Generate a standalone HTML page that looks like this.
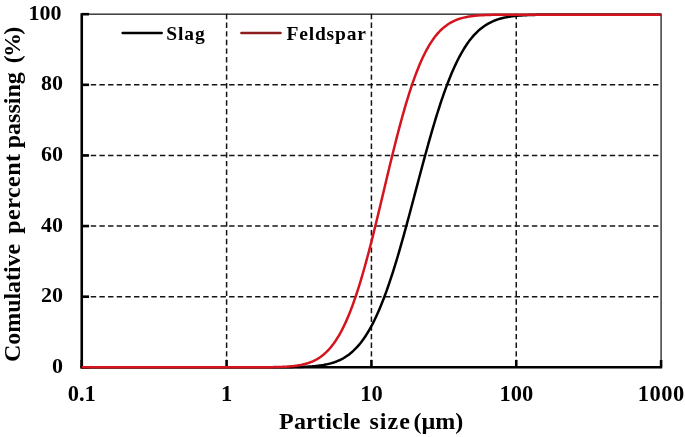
<!DOCTYPE html>
<html><head><meta charset="utf-8"><style>
html,body{margin:0;padding:0;background:#fff;}
body{width:685px;height:437px;overflow:hidden;}
svg{display:block;will-change:transform;}
text{font-family:"Liberation Serif",serif;font-weight:bold;fill:#000;}
</style></head><body>
<svg width="685" height="437" viewBox="0 0 685 437">
<rect width="685" height="437" fill="#fff"/>
<rect x="81.75" y="14.2" width="579.35" height="353.1" fill="none" stroke="#3c3c3c" stroke-width="1.5"/>
<line x1="82.1" y1="296.68" x2="660.1" y2="296.68" stroke="#141414" stroke-width="1.5" stroke-dasharray="5.4 3.25"/>
<line x1="82.1" y1="226.06" x2="660.1" y2="226.06" stroke="#141414" stroke-width="1.5" stroke-dasharray="5.4 3.25"/>
<line x1="82.1" y1="155.44" x2="660.1" y2="155.44" stroke="#141414" stroke-width="1.5" stroke-dasharray="5.4 3.25"/>
<line x1="82.1" y1="84.82" x2="660.1" y2="84.82" stroke="#141414" stroke-width="1.5" stroke-dasharray="5.4 3.25"/>
<line x1="226.59" y1="13.85" x2="226.59" y2="360.3" stroke="#141414" stroke-width="1.5" stroke-dasharray="5.4 3.25"/>
<line x1="371.43" y1="13.85" x2="371.43" y2="360.3" stroke="#141414" stroke-width="1.5" stroke-dasharray="5.4 3.25"/>
<line x1="516.26" y1="13.85" x2="516.26" y2="360.3" stroke="#141414" stroke-width="1.5" stroke-dasharray="5.4 3.25"/>
<line x1="81.75" y1="13.2" x2="81.75" y2="368.6" stroke="#000" stroke-width="2.6"/>
<line x1="80.45" y1="367.3" x2="662.1" y2="367.3" stroke="#000" stroke-width="2.6"/>
<line x1="81.75" y1="367.30" x2="89.05" y2="367.30" stroke="#000" stroke-width="2.6"/>
<line x1="81.75" y1="296.68" x2="89.05" y2="296.68" stroke="#000" stroke-width="2.6"/>
<line x1="81.75" y1="226.06" x2="89.05" y2="226.06" stroke="#000" stroke-width="2.6"/>
<line x1="81.75" y1="155.44" x2="89.05" y2="155.44" stroke="#000" stroke-width="2.6"/>
<line x1="81.75" y1="84.82" x2="89.05" y2="84.82" stroke="#000" stroke-width="2.6"/>
<line x1="81.75" y1="14.20" x2="89.05" y2="14.20" stroke="#000" stroke-width="2.6"/>
<line x1="81.75" y1="367.3" x2="81.75" y2="360.0" stroke="#000" stroke-width="2.6"/>
<line x1="226.59" y1="367.3" x2="226.59" y2="360.0" stroke="#000" stroke-width="2.6"/>
<line x1="371.43" y1="367.3" x2="371.43" y2="360.0" stroke="#000" stroke-width="2.6"/>
<line x1="516.26" y1="367.3" x2="516.26" y2="360.0" stroke="#000" stroke-width="2.6"/>
<line x1="661.10" y1="367.3" x2="661.10" y2="360.0" stroke="#000" stroke-width="2.6"/>
<path d="M81.75,367.30 L260.75,367.29 L266.75,367.29 L270.75,367.28 L273.75,367.28 L275.75,367.27 L277.75,367.26 L279.75,367.26 L280.75,367.25 L281.75,367.24 L282.75,367.24 L283.75,367.23 L284.75,367.22 L285.75,367.22 L286.75,367.21 L287.75,367.20 L288.75,367.19 L289.75,367.18 L290.75,367.16 L291.75,367.15 L292.75,367.13 L293.75,367.12 L294.75,367.10 L295.75,367.08 L296.75,367.06 L297.75,367.03 L298.75,367.01 L299.75,366.98 L300.75,366.95 L301.75,366.92 L302.75,366.88 L303.75,366.84 L304.75,366.80 L305.75,366.75 L306.75,366.71 L307.75,366.65 L308.75,366.59 L309.75,366.53 L310.75,366.46 L311.75,366.39 L312.75,366.31 L313.75,366.23 L314.75,366.14 L315.75,366.04 L316.75,365.93 L317.75,365.82 L318.75,365.70 L319.75,365.57 L320.75,365.43 L321.75,365.28 L322.75,365.12 L323.75,364.94 L324.75,364.76 L325.75,364.56 L326.75,364.35 L327.75,364.13 L328.75,363.89 L329.75,363.64 L330.75,363.37 L331.75,363.08 L332.75,362.78 L333.75,362.46 L334.75,362.11 L335.75,361.75 L336.75,361.36 L337.75,360.95 L338.75,360.52 L339.75,360.07 L340.75,359.58 L341.75,359.07 L342.75,358.54 L343.75,357.97 L344.75,357.37 L345.75,356.74 L346.75,356.08 L347.75,355.39 L348.75,354.66 L349.75,353.89 L350.75,353.09 L351.75,352.24 L352.75,351.36 L353.75,350.44 L354.75,349.47 L355.75,348.46 L356.75,347.41 L357.75,346.31 L358.75,345.16 L359.75,343.96 L360.75,342.72 L361.75,341.42 L362.75,340.07 L363.75,338.67 L364.75,337.22 L365.75,335.71 L366.75,334.15 L367.75,332.53 L368.75,330.85 L369.75,329.12 L370.75,327.32 L371.75,325.47 L372.75,323.55 L373.75,321.58 L374.75,319.55 L375.75,317.45 L376.75,315.29 L377.75,313.07 L378.75,310.79 L379.75,308.45 L380.75,306.04 L381.75,303.58 L382.75,301.05 L383.75,298.46 L384.75,295.81 L385.75,293.10 L386.75,290.34 L387.75,287.51 L388.75,284.62 L389.75,281.68 L390.75,278.69 L391.75,275.63 L392.75,272.53 L393.75,269.37 L394.75,266.16 L395.75,262.91 L396.75,259.60 L397.75,256.26 L398.75,252.86 L399.75,249.43 L400.75,245.95 L401.75,242.44 L402.75,238.89 L403.75,235.31 L404.75,231.70 L405.75,228.06 L406.75,224.39 L407.75,220.70 L408.75,216.99 L409.75,213.26 L410.75,209.51 L411.75,205.75 L412.75,201.98 L413.75,198.20 L414.75,194.41 L415.75,190.63 L416.75,186.84 L417.75,183.06 L418.75,179.28 L419.75,175.51 L420.75,171.75 L421.75,168.01 L422.75,164.28 L423.75,160.57 L424.75,156.89 L425.75,153.22 L426.75,149.59 L427.75,145.98 L428.75,142.41 L429.75,138.86 L430.75,135.36 L431.75,131.89 L432.75,128.46 L433.75,125.08 L434.75,121.74 L435.75,118.44 L436.75,115.19 L437.75,112.00 L438.75,108.85 L439.75,105.75 L440.75,102.71 L441.75,99.72 L442.75,96.79 L443.75,93.92 L444.75,91.10 L445.75,88.34 L446.75,85.65 L447.75,83.01 L448.75,80.43 L449.75,77.92 L450.75,75.46 L451.75,73.07 L452.75,70.74 L453.75,68.47 L454.75,66.26 L455.75,64.11 L456.75,62.03 L457.75,60.00 L458.75,58.04 L459.75,56.14 L460.75,54.30 L461.75,52.51 L462.75,50.79 L463.75,49.12 L464.75,47.51 L465.75,45.96 L466.75,44.46 L467.75,43.01 L468.75,41.62 L469.75,40.29 L470.75,39.00 L471.75,37.76 L472.75,36.58 L473.75,35.44 L474.75,34.35 L475.75,33.30 L476.75,32.30 L477.75,31.34 L478.75,30.42 L479.75,29.55 L480.75,28.71 L481.75,27.92 L482.75,27.16 L483.75,26.43 L484.75,25.74 L485.75,25.09 L486.75,24.47 L487.75,23.87 L488.75,23.31 L489.75,22.78 L490.75,22.28 L491.75,21.80 L492.75,21.35 L493.75,20.92 L494.75,20.51 L495.75,20.13 L496.75,19.77 L497.75,19.43 L498.75,19.11 L499.75,18.81 L500.75,18.53 L501.75,18.26 L502.75,18.01 L503.75,17.78 L504.75,17.56 L505.75,17.35 L506.75,17.16 L507.75,16.97 L508.75,16.80 L509.75,16.65 L510.75,16.50 L511.75,16.36 L512.75,16.23 L513.75,16.11 L514.75,16.00 L515.75,15.89 L516.75,15.80 L517.75,15.71 L518.75,15.62 L519.75,15.55 L520.75,15.47 L521.75,15.41 L522.75,15.35 L523.75,15.29 L524.75,15.24 L525.75,15.19 L526.75,15.14 L527.75,15.10 L528.75,15.06 L529.75,15.03 L530.75,14.99 L531.75,14.96 L532.75,14.94 L533.75,14.91 L534.75,14.89 L535.75,14.87 L536.75,14.85 L537.75,14.83 L538.75,14.81 L539.75,14.80 L540.75,14.78 L541.75,14.77 L542.75,14.76 L543.75,14.75 L544.75,14.74 L545.75,14.73 L546.75,14.72 L547.75,14.72 L548.75,14.71 L549.75,14.70 L550.75,14.70 L552.75,14.69 L554.75,14.68 L556.75,14.68 L558.75,14.67 L561.75,14.66 L565.75,14.66 L572.75,14.65 L660.75,14.65" fill="none" stroke="#000" stroke-width="2.5" stroke-linejoin="round"/>
<path d="M81.75,367.30 L243.75,367.29 L249.75,367.29 L253.75,367.28 L256.75,367.27 L258.75,367.27 L260.75,367.26 L261.75,367.25 L262.75,367.25 L263.75,367.24 L264.75,367.23 L265.75,367.23 L266.75,367.22 L267.75,367.21 L268.75,367.20 L269.75,367.18 L270.75,367.17 L271.75,367.16 L272.75,367.14 L273.75,367.12 L274.75,367.10 L275.75,367.08 L276.75,367.06 L277.75,367.03 L278.75,367.00 L279.75,366.97 L280.75,366.93 L281.75,366.89 L282.75,366.85 L283.75,366.81 L284.75,366.76 L285.75,366.70 L286.75,366.64 L287.75,366.57 L288.75,366.50 L289.75,366.42 L290.75,366.34 L291.75,366.25 L292.75,366.15 L293.75,366.04 L294.75,365.92 L295.75,365.79 L296.75,365.66 L297.75,365.51 L298.75,365.35 L299.75,365.17 L300.75,364.99 L301.75,364.78 L302.75,364.57 L303.75,364.33 L304.75,364.08 L305.75,363.82 L306.75,363.53 L307.75,363.22 L308.75,362.89 L309.75,362.54 L310.75,362.16 L311.75,361.76 L312.75,361.33 L313.75,360.87 L314.75,360.39 L315.75,359.87 L316.75,359.32 L317.75,358.73 L318.75,358.11 L319.75,357.46 L320.75,356.76 L321.75,356.03 L322.75,355.25 L323.75,354.43 L324.75,353.56 L325.75,352.65 L326.75,351.69 L327.75,350.68 L328.75,349.62 L329.75,348.50 L330.75,347.33 L331.75,346.10 L332.75,344.81 L333.75,343.47 L334.75,342.06 L335.75,340.59 L336.75,339.05 L337.75,337.45 L338.75,335.78 L339.75,334.04 L340.75,332.24 L341.75,330.36 L342.75,328.41 L343.75,326.39 L344.75,324.29 L345.75,322.12 L346.75,319.88 L347.75,317.56 L348.75,315.16 L349.75,312.69 L350.75,310.14 L351.75,307.52 L352.75,304.81 L353.75,302.04 L354.75,299.19 L355.75,296.26 L356.75,293.26 L357.75,290.19 L358.75,287.04 L359.75,283.82 L360.75,280.54 L361.75,277.18 L362.75,273.76 L363.75,270.27 L364.75,266.73 L365.75,263.12 L366.75,259.45 L367.75,255.72 L368.75,251.95 L369.75,248.12 L370.75,244.24 L371.75,240.32 L372.75,236.35 L373.75,232.35 L374.75,228.31 L375.75,224.24 L376.75,220.14 L377.75,216.01 L378.75,211.86 L379.75,207.70 L380.75,203.52 L381.75,199.32 L382.75,195.12 L383.75,190.92 L384.75,186.71 L385.75,182.51 L386.75,178.32 L387.75,174.14 L388.75,169.97 L389.75,165.82 L390.75,161.70 L391.75,157.60 L392.75,153.53 L393.75,149.49 L394.75,145.49 L395.75,141.52 L396.75,137.60 L397.75,133.73 L398.75,129.90 L399.75,126.12 L400.75,122.40 L401.75,118.73 L402.75,115.13 L403.75,111.58 L404.75,108.09 L405.75,104.67 L406.75,101.32 L407.75,98.04 L408.75,94.82 L409.75,91.68 L410.75,88.61 L411.75,85.61 L412.75,82.68 L413.75,79.83 L414.75,77.06 L415.75,74.36 L416.75,71.74 L417.75,69.19 L418.75,66.72 L419.75,64.33 L420.75,62.01 L421.75,59.77 L422.75,57.60 L423.75,55.51 L424.75,53.49 L425.75,51.54 L426.75,49.66 L427.75,47.86 L428.75,46.12 L429.75,44.46 L430.75,42.86 L431.75,41.32 L432.75,39.85 L433.75,38.45 L434.75,37.10 L435.75,35.82 L436.75,34.59 L437.75,33.42 L438.75,32.30 L439.75,31.24 L440.75,30.23 L441.75,29.27 L442.75,28.36 L443.75,27.50 L444.75,26.68 L445.75,25.90 L446.75,25.17 L447.75,24.47 L448.75,23.82 L449.75,23.20 L450.75,22.62 L451.75,22.07 L452.75,21.55 L453.75,21.07 L454.75,20.61 L455.75,20.18 L456.75,19.78 L457.75,19.40 L458.75,19.05 L459.75,18.72 L460.75,18.41 L461.75,18.13 L462.75,17.86 L463.75,17.61 L464.75,17.38 L465.75,17.16 L466.75,16.96 L467.75,16.77 L468.75,16.60 L469.75,16.44 L470.75,16.29 L471.75,16.15 L472.75,16.03 L473.75,15.91 L474.75,15.80 L475.75,15.70 L476.75,15.61 L477.75,15.52 L478.75,15.45 L479.75,15.37 L480.75,15.31 L481.75,15.25 L482.75,15.19 L483.75,15.14 L484.75,15.10 L485.75,15.05 L486.75,15.02 L487.75,14.98 L488.75,14.95 L489.75,14.92 L490.75,14.89 L491.75,14.87 L492.75,14.85 L493.75,14.83 L494.75,14.81 L495.75,14.79 L496.75,14.78 L497.75,14.77 L498.75,14.75 L499.75,14.74 L500.75,14.73 L501.75,14.72 L502.75,14.72 L503.75,14.71 L504.75,14.70 L505.75,14.70 L506.75,14.69 L508.75,14.68 L510.75,14.68 L512.75,14.67 L515.75,14.66 L519.75,14.66 L526.75,14.65 L660.75,14.65" fill="none" stroke="#d4141e" stroke-width="2.5" stroke-linejoin="round"/>
<line x1="122.6" y1="33.1" x2="161.7" y2="33.1" stroke="#000" stroke-width="2.5" stroke-linecap="round"/>
<line x1="241.4" y1="33.1" x2="280.5" y2="33.1" stroke="#8c1c20" stroke-width="2.5" stroke-linecap="round"/>
<text x="63.0" y="372.80" font-size="22" text-anchor="end">0</text>
<text x="63.0" y="302.18" font-size="22" text-anchor="end">20</text>
<text x="63.0" y="231.56" font-size="22" text-anchor="end">40</text>
<text x="63.0" y="160.94" font-size="22" text-anchor="end">60</text>
<text x="63.0" y="90.32" font-size="22" text-anchor="end">80</text>
<text x="61.6" y="19.70" font-size="22" text-anchor="end">100</text>
<text x="81.75" y="400.7" font-size="22.5" text-anchor="middle">0.1</text>
<text x="226.59" y="400.7" font-size="22.5" text-anchor="middle">1</text>
<text x="371.43" y="400.7" font-size="22.5" text-anchor="middle">10</text>
<text x="516.26" y="400.7" font-size="22.5" text-anchor="middle">100</text>
<text x="661.10" y="400.7" font-size="22.5" text-anchor="middle" textLength="46.5" lengthAdjust="spacing">1000</text>
<text x="166.2" y="40.1" font-size="19.5" textLength="38.6" lengthAdjust="spacing">Slag</text>
<text x="286.5" y="40.1" font-size="19.5" textLength="79.4" lengthAdjust="spacing">Feldspar</text>
<text x="279.0" y="428.5" font-size="24" textLength="81.5" lengthAdjust="spacing">Particle</text>
<text x="369.5" y="428.5" font-size="24" textLength="40.3" lengthAdjust="spacing">size</text>
<text x="413.5" y="428.5" font-size="24">(µm)</text>
<text transform="translate(20,362.0) rotate(-90)" x="0" y="0" font-size="24" textLength="118.2" lengthAdjust="spacing">Comulative</text>
<text transform="translate(20,233.8) rotate(-90)" x="0" y="0" font-size="24" textLength="79.9" lengthAdjust="spacing">percent</text>
<text transform="translate(20,148.3) rotate(-90)" x="0" y="0" font-size="24">passing</text>
<text transform="translate(20,63.3) rotate(-90)" x="0" y="0" font-size="24" textLength="36.5" lengthAdjust="spacing">(%)</text>
</svg>
</body></html>
